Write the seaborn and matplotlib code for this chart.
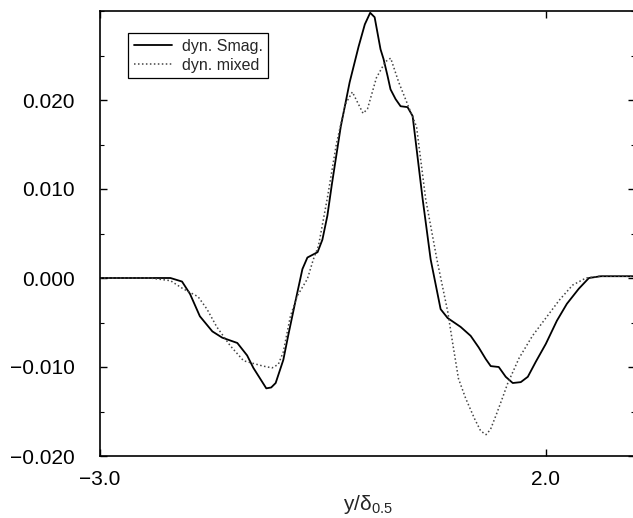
import numpy as np
import pandas as pd
import matplotlib
matplotlib.use("Agg")
import matplotlib.pyplot as plt
import seaborn as sns
from matplotlib.ticker import MultipleLocator, FixedLocator

# ---- data ----
smag_x = [-3.0, -2.44, -2.21, -2.08, -1.99, -1.88, -1.74, -1.63, -1.46, -1.35, -1.28,
          -1.135, -1.08, -1.03, -0.944, -0.888, -0.81, -0.73, -0.674, -0.56, -0.506,
          -0.45, -0.4, -0.3, -0.2, -0.1, -0.03, 0.03, 0.08, 0.146, 0.18, 0.225, 0.258,
          0.315, 0.371, 0.449, 0.506, 0.618, 0.708, 0.82, 0.899, 1.045, 1.157, 1.247,
          1.326, 1.382, 1.472, 1.55, 1.629, 1.719, 1.798, 1.888, 2.0, 2.124, 2.236,
          2.37, 2.483, 2.618, 3.0]
smag_y = [0.0, 0.0, 0.0, -0.0004, -0.0018, -0.0043, -0.006, -0.0067, -0.0073, -0.0087,
          -0.0101, -0.0124, -0.0123, -0.0118, -0.0092, -0.0064, -0.0027, 0.001, 0.0023,
          0.0029, 0.0043, 0.007, 0.0105, 0.017, 0.022, 0.026, 0.0285, 0.0298, 0.0293,
          0.0257, 0.0246, 0.0227, 0.0212, 0.0201, 0.0193, 0.0192, 0.0182, 0.0089, 0.0021,
          -0.0035, -0.0045, -0.0055, -0.0065, -0.0078, -0.0091, -0.0099, -0.0100,
          -0.0111, -0.0118, -0.0117, -0.0111, -0.0094, -0.0074, -0.0048, -0.0029,
          -0.0012, 0.0, 0.0002, 0.0002]

mixed_x = [-3.0, -2.44, -2.21, -2.07, -1.90, -1.80, -1.69, -1.54, -1.39, -1.28, -1.17,
           -1.07, -1.0, -0.944, -0.865, -0.787, -0.674, -0.607, -0.55, -0.45, -0.35,
           -0.25, -0.17, -0.1, -0.05, 0.0, 0.1, 0.2, 0.26, 0.35, 0.45, 0.55, 0.652,
           0.78, 0.9, 0.95, 1.02, 1.1, 1.2, 1.27, 1.33, 1.38, 1.45, 1.52, 1.57, 1.7,
           1.85, 2.0, 2.15, 2.3, 2.45, 2.6, 3.0]
mixed_y = [0.0, 0.0, -0.0003, -0.0012, -0.0021, -0.0035, -0.0055, -0.0076, -0.0093,
           -0.0096, -0.0099, -0.0101, -0.0097, -0.0083, -0.0043, -0.002, -0.0001, 0.0021,
           0.0036, 0.009, 0.015, 0.0195, 0.0209, 0.0195, 0.0185, 0.019, 0.0225, 0.0243,
           0.0247, 0.022, 0.0195, 0.017, 0.0089, 0.002, -0.0038, -0.007, -0.0113,
           -0.0135, -0.0158, -0.0172, -0.0176, -0.017, -0.0152, -0.0133, -0.0119,
           -0.009, -0.0065, -0.0045, -0.0025, -0.0008, 0.0, 0.0002, 0.0002]

series_names = ["dyn. Smag.", "dyn. mixed"]
y_ticks = [-0.020, -0.010, 0.000, 0.010, 0.020]
y_tick_labels = ["\u22120.020", "\u22120.010", "0.000", "0.010", "0.020"]
x_ticks = [-3.0, 2.0]
x_tick_labels = ["\u22123.0", "2.0"]

df = pd.concat([
    pd.DataFrame({"x": smag_x, "y": smag_y, "model": series_names[0]}),
    pd.DataFrame({"x": mixed_x, "y": mixed_y, "model": series_names[1]}),
])

sns.set_style("ticks")
plt.rcParams["font.family"] = ["Liberation Sans", "DejaVu Sans"]
plt.rcParams["mathtext.fontset"] = "custom"
plt.rcParams["mathtext.rm"] = "Liberation Sans"
plt.rcParams["mathtext.it"] = "Liberation Sans"

fig = plt.figure(figsize=(6.33, 5.18), dpi=100)
ax = fig.add_axes([100 / 633, 1 - 456 / 518, 535 / 633, 445 / 518])

sns.lineplot(data=df[df.model == series_names[0]], x="x", y="y", ax=ax,
             color="black", linewidth=1.3, sort=False, label=series_names[0])
sns.lineplot(data=df[df.model == series_names[1]], x="x", y="y", ax=ax,
             color="#444444", linewidth=1.1, linestyle=(0, (1, 1.6)), sort=False,
             label=series_names[1])

ax.set_xlim(-3.0, 3.0)
ax.set_ylim(-0.020, 0.030)
ax.xaxis.set_major_locator(FixedLocator(x_ticks))
ax.set_xticklabels(x_tick_labels)
ax.yaxis.set_major_locator(FixedLocator(y_ticks))
ax.set_yticklabels(y_tick_labels)
ax.yaxis.set_minor_locator(MultipleLocator(0.005))

ax.tick_params(axis="both", which="both", direction="in", top=True, right=True,
               labelsize=15, colors="black")
ax.tick_params(axis="both", which="major", length=5, width=1)
ax.tick_params(axis="both", which="minor", length=3, width=0.8)
ax.tick_params(axis="y", which="major", pad=18)
ax.tick_params(axis="x", which="major", pad=10)

for s in ax.spines.values():
    s.set_linewidth(1.2)
    s.set_color("black")

ax.set_xlabel(r"y/$\mathregular{\delta_{0.5}}$", fontsize=15, labelpad=3)
ax.set_ylabel("")

leg = ax.legend(loc="upper left", bbox_to_anchor=(28 / 535, 1 - 22 / 445),
                fontsize=11.5, frameon=True, fancybox=False, framealpha=1,
                edgecolor="black", handlelength=2.4, borderpad=0.35,
                labelspacing=0.25, handletextpad=0.6, borderaxespad=0)
leg.get_frame().set_linewidth(0.9)

fig.savefig("out.png", dpi=100)
